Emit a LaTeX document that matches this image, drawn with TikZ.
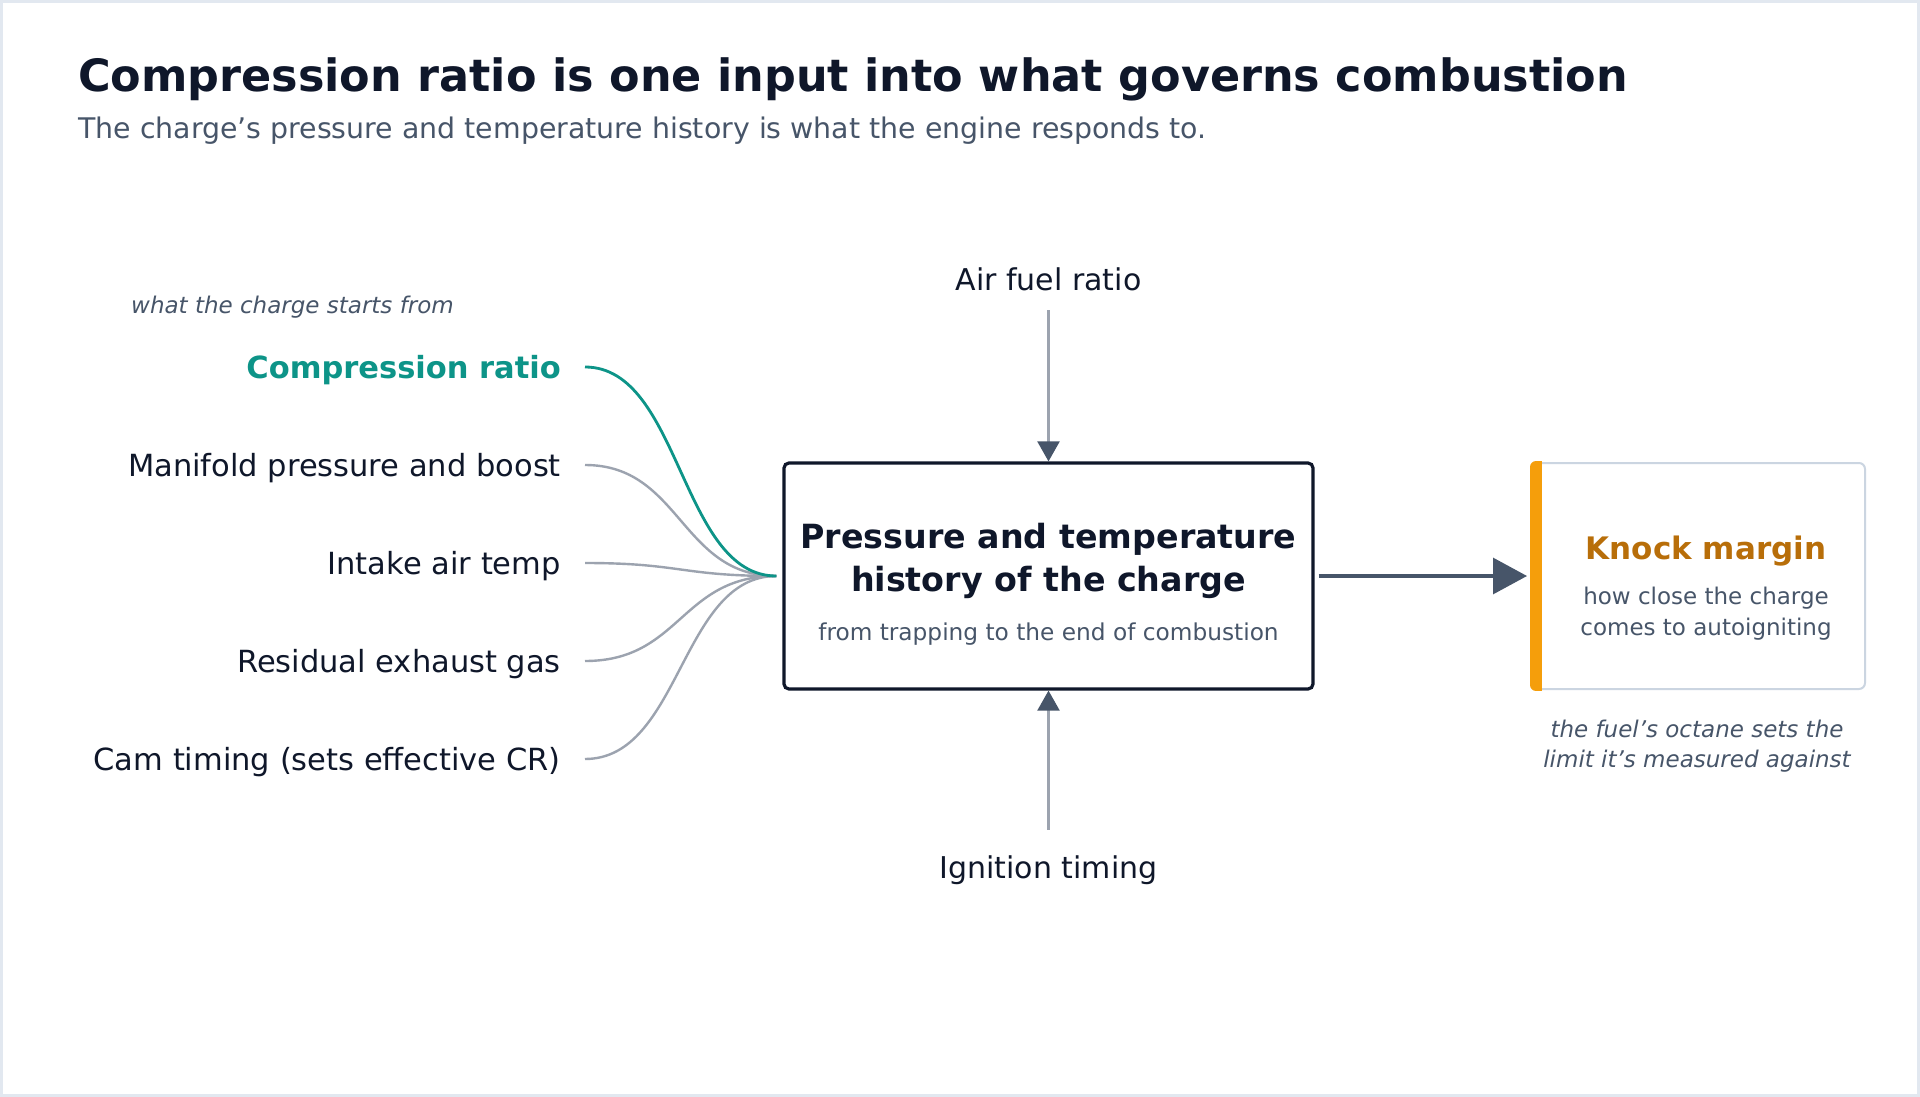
\documentclass[tikz,border=0pt]{standalone}
\usepackage{fontspec}
\setmainfont{DejaVu Sans}
\usetikzlibrary{arrows.meta,calc}
\definecolor{ink}{HTML}{0F172A}
\definecolor{slate}{HTML}{475569}
\definecolor{wire}{HTML}{9CA3AF}
\definecolor{tealc}{HTML}{0D9488}
\definecolor{barc}{HTML}{F59E0B}
\definecolor{knockc}{HTML}{B86E09}
\definecolor{paleb}{HTML}{CBD5E1}
\definecolor{framec}{HTML}{E2E8F0}
\tikzset{
  fs/.style={font=\fontsize{#1}{#1}\selectfont},
  lbl/.style={fs=30.5, text=ink, inner sep=0pt, text height=22pt, text depth=0pt, anchor=east},
  feed/.style={draw=wire, line width=2.4pt},
  feedhi/.style={draw=tealc, line width=2.8pt},
  vin/.style={draw=wire, line width=2.2pt, -{Triangle[length=20pt,width=22pt,color=slate]}},
  outarrow/.style={draw=slate, line width=3.2pt, -{Triangle[length=34pt,width=36pt]}},
  mainbox/.style={draw=ink, line width=3.2pt, rounded corners=5pt, fill=white, minimum width=529pt, minimum height=226pt, inner sep=0pt},
  knockbox/.style={draw=paleb, line width=2pt, rounded corners=6pt, fill=white, minimum width=333pt, minimum height=226pt, inner sep=0pt},
  small/.style={fs=23.25, text=slate, inner sep=0pt, align=center},
  note/.style={font=\fontsize{23}{29.5}\selectfont\itshape, text=slate, inner sep=0pt, align=center},
}
\begin{document}
\begin{tikzpicture}[x=1pt,y=-1pt]
\useasboundingbox (0,0) rectangle (1920,1097);
\fill[white] (0,0) rectangle (1920,1097);
\draw[framec, line width=3pt] (1.5,1.5) rectangle (1918.5,1095.5);

% title
\node[anchor=base west, inner sep=0pt, text=ink, font=\fontsize{44.5}{50}\selectfont\bfseries] (title) at (78,91.5) {Compression ratio is one input into what governs combustion};
\node[anchor=base west, inner sep=0pt, text=slate, fs=28.4] (subtitle) at (78,139) {The charge’s pressure and temperature history is what the engine responds to.};

% caption
\node[anchor=base west, inner sep=0pt, text=slate, font=\fontsize{23}{28}\selectfont\itshape] (cap) at (131,313) {what the charge starts from};

% left labels
\node[lbl, text=tealc, font=\fontsize{30.5}{36}\selectfont\bfseries] (cr) at (561,367) {Compression ratio};
\node[lbl] (mp) at (561,465) {Manifold pressure and boost};
\node[lbl] (iat) at (561,563) {Intake air temp};
\node[lbl] (reg) at (561,661) {Residual exhaust gas};
\node[lbl] (cam) at (561,759) {Cam timing (sets effective CR)};

% main box
\node[mainbox] (box) at (1048.5,576) {};
\node[inner sep=0pt, text=ink, font=\fontsize{33.3}{43}\selectfont\bfseries, align=center] (boxtitle) at (1048.5,561) {Pressure and temperature\\history of the charge};
\node[small] (boxsub) at (1048.5,634.5) {from trapping to the end of combustion};
\coordinate (hub) at ($(box.west)+(-6,0)$);

% feeds
\draw[feed] ([xshift=24pt]mp.east) .. controls +(96,0) and +(-96,0) .. (hub);
\draw[feed] ([xshift=24pt]iat.east) .. controls +(96,0) and +(-96,0) .. (hub);
\draw[feed] ([xshift=24pt]reg.east) .. controls +(96,0) and +(-96,0) .. (hub);
\draw[feed] ([xshift=24pt]cam.east) .. controls +(96,0) and +(-96,0) .. (hub);
\draw[feedhi] ([xshift=24pt]cr.east) .. controls +(96,0) and +(-96,0) .. (hub);

% vertical inputs
\node[fs=30, text=ink, inner sep=0pt, text height=22pt, text depth=7pt] (afr) at (1048.5,283) {Air fuel ratio};
\node[fs=30, text=ink, inner sep=0pt, text height=22pt, text depth=7pt] (ign) at (1048.5,871) {Ignition timing};
\draw[vin, shorten <=12.5pt] (afr.south) -- (box.north);
\draw[vin, shorten <=26.5pt] (ign.north) -- (box.south);

% knock box
\node[knockbox] (knock) at (1698.5,576) {};
\begin{scope}
  \clip[rounded corners=6pt] ($(knock.north west)+(-1,-1)$) rectangle ($(knock.south east)+(1,1)$);
  \fill[barc] ($(knock.north west)+(-1,-1)$) rectangle ($(knock.south west)+(11,1)$);
\end{scope}
\node[inner sep=0pt, text=knockc, font=\fontsize{31}{36}\selectfont\bfseries] (ktitle) at (1706,551.5) {Knock margin};
\node[inner sep=0pt, text=slate, font=\fontsize{23}{31}\selectfont, align=center] (ksub) at (1706,613.5) {how close the charge\\comes to autoigniting};
\node[note] (knote) at (1697,746) {the fuel’s octane sets the\\limit it’s measured against};

\draw[outarrow, shorten <=4pt, shorten >=4pt] (box.east) -- (knock.west);
\end{tikzpicture}
\end{document}
